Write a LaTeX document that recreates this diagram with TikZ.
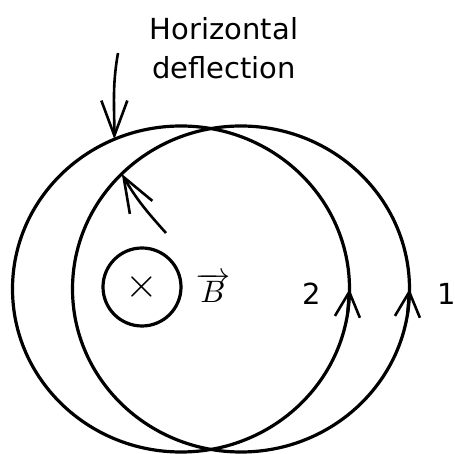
\documentclass[tikz,border=0pt]{standalone}
\usepackage{fontspec}
\setsansfont{DejaVu Sans}
\usetikzlibrary{arrows.meta,shapes.geometric}
\newcommand{\bigsym}[2][1.55]{\scalebox{#1}{$#2$}}
\begin{document}
\begin{tikzpicture}
  [x=0.5pt,y=0.5pt,line width=1.6pt,
   orbit/.style={ellipse,draw,outer sep=0pt,inner sep=0pt,minimum width=168.5pt,minimum height=163pt},
   lbl/.style={font=\sffamily\fontsize{14.5}{19.5}\selectfont,inner sep=0pt},
   longbarb/.style={line width=1.3pt,-{Straight Barb[length=17.5pt,width=13pt]}},
   shortbarb/.style={-{Straight Barb[length=12.5pt,width=12.5pt,line width=1.3pt]}}]
  \useasboundingbox (0,0) rectangle (455,454);

  \foreach \n/\x in {orbit2/181, orbit1/241}
    \node[orbit] (\n) at (\x,165) {};

  \node[circle,draw,minimum size=39pt,inner sep=0pt] (coil) at (142,167) {\bigsym[2.1]{\times}};
  \node[anchor=base,inner sep=0pt] (field) at (213,151) {\bigsym{\overrightarrow{\,B\,}}};
  \node[lbl,align=center,anchor=north] (title) at (224,438) {Horizontal\\deflection};
  \node[lbl,anchor=base] (lab2) at (312,149) {2};
  \node[lbl,anchor=base] (lab1) at (447,149) {1};

  \coordinate (deflTail) at (118,401);
  \coordinate (innerTail) at (166,221);
  \draw[longbarb] (deflTail) to[out=-100,in=90] (orbit2.114);
  \draw[longbarb] (innerTail) to[out=132,in=-60] (orbit1.136);

  \foreach \o in {orbit1, orbit2}
    \draw[shortbarb] (\o.-8) -- (\o.east);

\end{tikzpicture}
\end{document}
